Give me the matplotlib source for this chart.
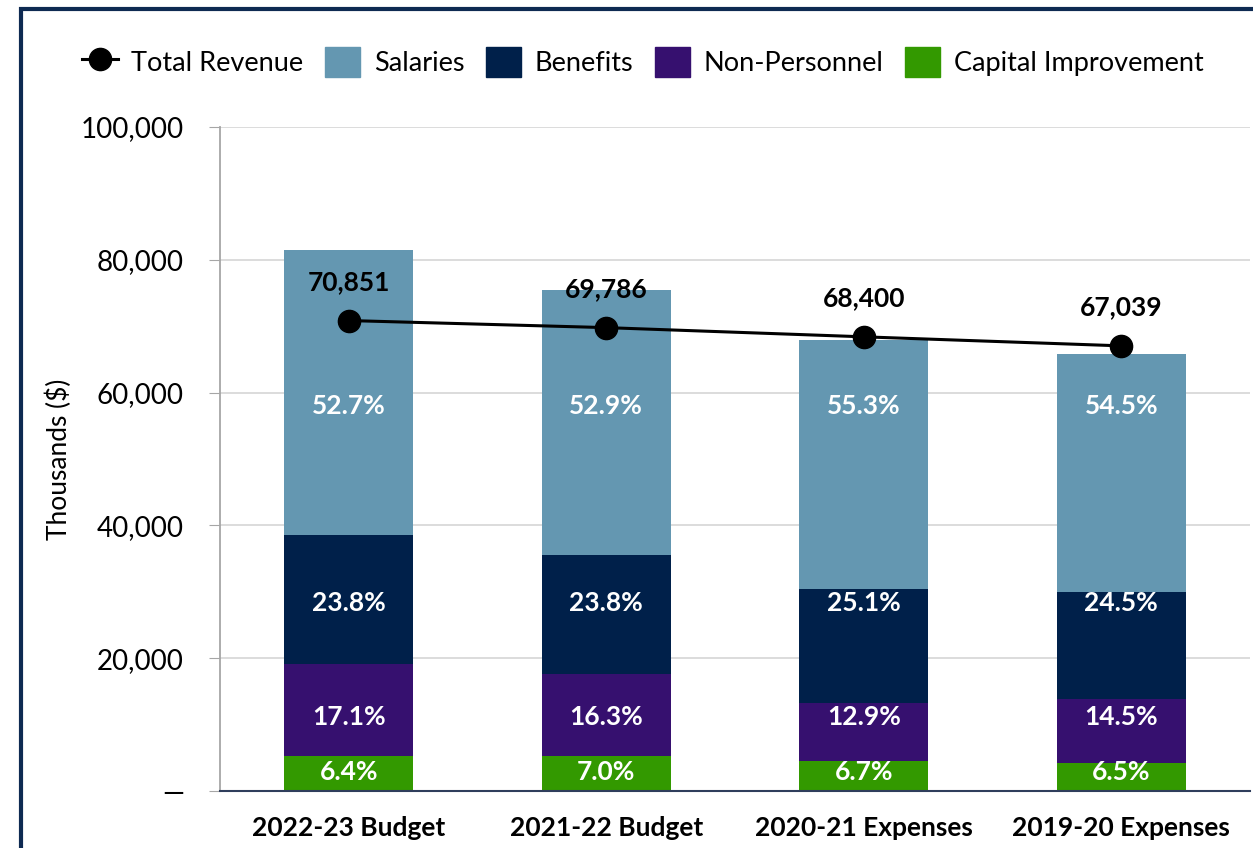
import numpy as np
import matplotlib.pyplot as plt
from matplotlib.lines import Line2D
from matplotlib.patches import Patch, Rectangle
from matplotlib.ticker import FuncFormatter

plt.rcParams['font.family'] = ['Lato', 'DejaVu Sans']

categories = ['2022-23 Budget', '2021-22 Budget', '2020-21 Expenses', '2019-20 Expenses']
total_expenses = [81450, 75450, 67900, 65850]
salaries_pct = [52.7, 52.9, 55.3, 54.5]
benefits_pct = [23.8, 23.8, 25.1, 24.5]
nonpersonnel_pct = [17.1, 16.3, 12.9, 14.5]
capital_pct = [6.4, 7.0, 6.7, 6.5]
total_revenue = [70851, 69786, 68400, 67039]

series_names = ['Capital Improvement', 'Non-Personnel', 'Benefits', 'Salaries']
series_pcts = [capital_pct, nonpersonnel_pct, benefits_pct, salaries_pct]
series_colors = ['#339900', '#36106F', '#00204A', '#6497B1']
# fixed label heights for each stack level (thousands)
label_y = [2850, 11100, 28300, 58000]

fig = plt.figure(figsize=(12.53, 8.48), dpi=100)
ax = fig.add_axes([220 / 1253, 1 - 791 / 848, 1030 / 1253, 664 / 848])

x = np.arange(len(categories))
totals = np.array(total_expenses, dtype=float)
bottom = np.zeros(len(categories))
for name, pct, color, ly in zip(series_names, series_pcts, series_colors, label_y):
    vals = totals * np.array(pct) / 100
    ax.bar(x, vals, 0.5, bottom=bottom, color=color, zorder=2)
    for xi, p in zip(x, pct):
        ax.text(xi, ly, f'{p:.1f}%', ha='center', va='center', color='white',
                fontsize=19, fontweight='bold', zorder=4)
    bottom += vals

ax.plot(x, total_revenue, color='black', lw=2.2, marker='o', ms=16, zorder=3)
for xi, v in zip(x, total_revenue):
    ax.annotate(f'{v:,}', (xi, v), xytext=(0, 28), textcoords='offset points',
                ha='center', va='center', fontsize=19, fontweight='bold', zorder=4)

ax.set_xlim(-0.5, 3.5)
ax.set_ylim(0, 100000)
ax.set_yticks(np.arange(0, 100001, 20000))
ax.yaxis.set_major_formatter(FuncFormatter(lambda v, p: '—' if v == 0 else f'{v:,.0f}'))
ax.set_xticks(x)
ax.set_xticklabels(categories, fontsize=19, fontweight='bold')
ax.tick_params(axis='y', labelsize=20, length=8, color='#A6A6A6', pad=18)
ax.tick_params(axis='x', length=0, pad=18)
ax.grid(axis='y', color='#D9D9D9', lw=1.3, zorder=0)
ax.set_axisbelow(True)
for s in ['top', 'right']:
    ax.spines[s].set_visible(False)
ax.spines['left'].set_color('#A6A6A6')
ax.spines['left'].set_linewidth(1.3)
ax.spines['bottom'].set_color('#2F3E5C')
ax.spines['bottom'].set_linewidth(1.5)
ax.set_ylabel('Thousands ($)', fontsize=19, labelpad=6)

handles = [Line2D([], [], color='black', lw=2.2, marker='o', ms=16)]
handles += [Patch(color=c) for c in series_colors[::-1]]
labels = ['Total Revenue'] + series_names[::-1]
fig.legend(handles, labels, loc='center', bbox_to_anchor=(643 / 1253, 1 - 62 / 848),
           ncol=5, frameon=False, fontsize=19.5, handlelength=1.3, handleheight=1.3,
           handletextpad=0.5, columnspacing=0.8)

# outer navy frame
fig.patches.append(Rectangle((21 / 1253, -0.1), 1.2, 1 - 9 / 848 + 0.1,
                             transform=fig.transFigure, fill=False,
                             edgecolor='#0E2A52', lw=3, zorder=10))

fig.savefig('out.png', dpi=100)
